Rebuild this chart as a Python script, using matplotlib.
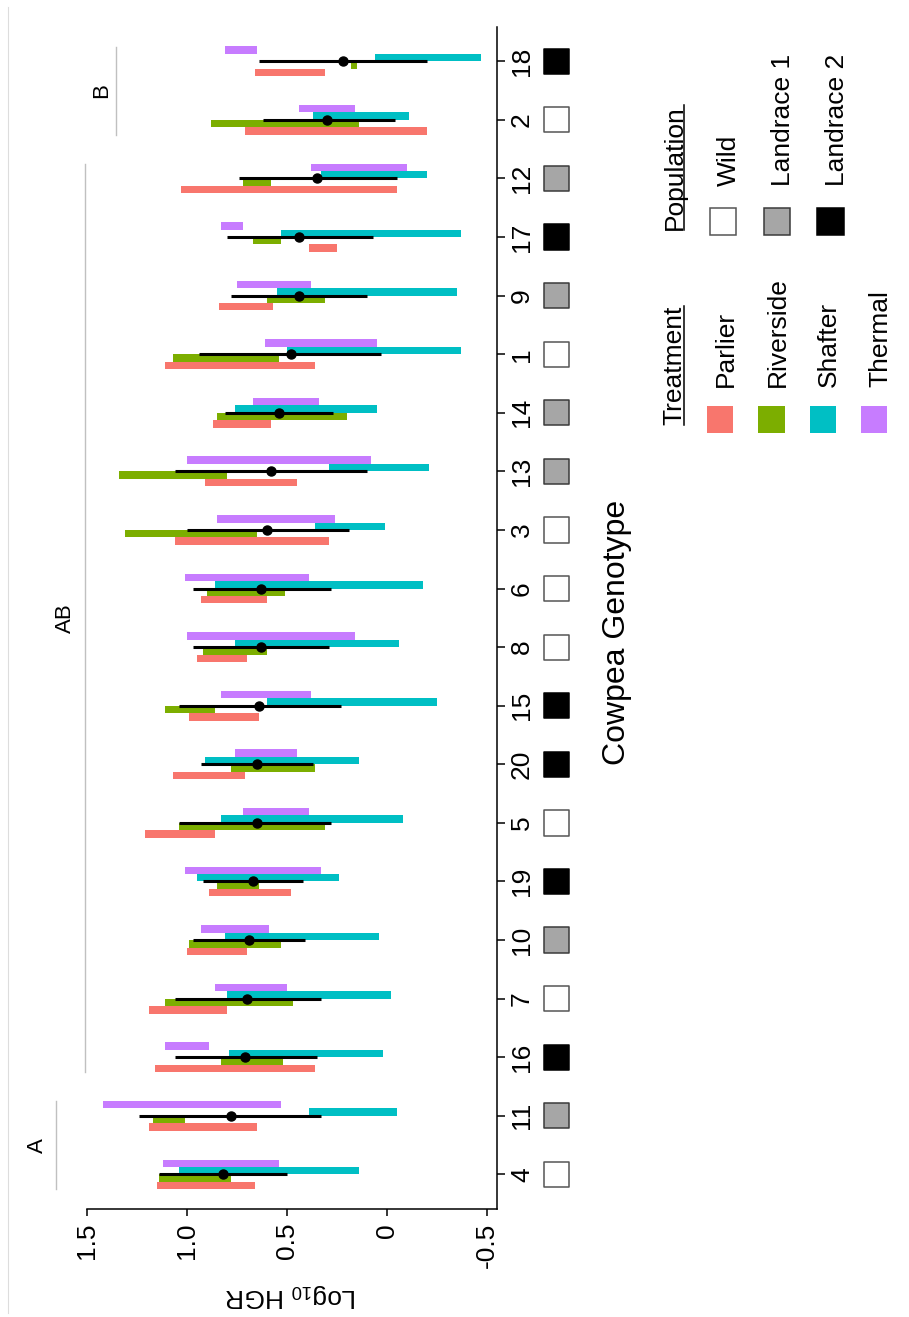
import numpy as np
import matplotlib
matplotlib.use('Agg')
import matplotlib.pyplot as plt
from matplotlib.patches import Rectangle
from matplotlib.lines import Line2D
from matplotlib.transforms import blended_transform_factory

# genotypes, bottom to top (ordered by mean log10 HGR)
genotypes = ['4', '11', '16', '7', '10', '19', '5', '20', '15', '8',
             '6', '3', '13', '14', '1', '9', '17', '12', '2', '18']
population = ['Wild', 'Landrace 1', 'Landrace 2', 'Wild', 'Landrace 1',
              'Landrace 2', 'Wild', 'Landrace 2', 'Landrace 2', 'Wild',
              'Wild', 'Wild', 'Landrace 1', 'Landrace 1', 'Wild',
              'Landrace 1', 'Landrace 2', 'Landrace 1', 'Wild', 'Landrace 2']

# treatment ranges (low, high) of log10 HGR
parlier_lo = [0.66, 0.65, 0.36, 0.80, 0.70, 0.48, 0.86, 0.71, 0.64, 0.70,
              0.60, 0.29, 0.45, 0.58, 0.36, 0.57, 0.25, -0.05, -0.20, 0.31]
parlier_hi = [1.15, 1.19, 1.16, 1.19, 1.00, 0.89, 1.21, 1.07, 0.99, 0.95,
              0.93, 1.06, 0.91, 0.87, 1.11, 0.84, 0.39, 1.03, 0.71, 0.66]
riverside_lo = [0.78, 1.01, 0.52, 0.47, 0.53, 0.64, 0.31, 0.36, 0.86, 0.60,
                0.51, 0.65, 0.80, 0.20, 0.54, 0.31, 0.53, 0.58, 0.14, 0.15]
riverside_hi = [1.14, 1.17, 0.83, 1.11, 0.99, 0.85, 1.04, 0.78, 1.11, 0.92,
                0.90, 1.31, 1.34, 0.85, 1.07, 0.60, 0.67, 0.72, 0.88, 0.18]
shafter_lo = [0.14, -0.05, 0.02, -0.02, 0.04, 0.24, -0.08, 0.14, -0.25, -0.06,
              -0.18, 0.01, -0.21, 0.05, -0.37, -0.35, -0.37, -0.20, -0.11, -0.47]
shafter_hi = [1.04, 0.39, 0.79, 0.80, 0.81, 0.95, 0.83, 0.91, 0.60, 0.76,
              0.86, 0.36, 0.29, 0.76, 0.50, 0.55, 0.53, 0.33, 0.37, 0.06]
thermal_lo = [0.54, 0.53, 0.89, 0.50, 0.59, 0.33, 0.39, 0.45, 0.38, 0.16,
              0.39, 0.26, 0.08, 0.34, 0.05, 0.38, 0.72, -0.10, 0.16, 0.65]
thermal_hi = [1.12, 1.42, 1.11, 0.86, 0.93, 1.01, 0.72, 0.76, 0.83, 1.00,
              1.01, 0.85, 1.00, 0.67, 0.61, 0.75, 0.83, 0.38, 0.44, 0.81]

# genotype mean and interval
mean = [0.82, 0.78, 0.71, 0.70, 0.69, 0.67, 0.65, 0.65, 0.64, 0.63,
        0.63, 0.60, 0.58, 0.54, 0.48, 0.44, 0.44, 0.35, 0.30, 0.22]
ci_lo = [0.50, 0.33, 0.35, 0.33, 0.41, 0.42, 0.28, 0.37, 0.23, 0.29,
         0.28, 0.19, 0.10, 0.27, 0.03, 0.10, 0.07, -0.05, -0.04, -0.20]
ci_hi = [1.14, 1.24, 1.06, 1.06, 0.97, 0.92, 1.04, 0.93, 1.04, 0.97,
         0.97, 1.00, 1.06, 0.81, 0.94, 0.78, 0.80, 0.74, 0.62, 0.64]

# letter groups: (letter, first genotype index, last genotype index)
groups = [('A', 0, 1), ('AB', 2, 17), ('B', 18, 19)]

treatment_names = ['Parlier', 'Riverside', 'Shafter', 'Thermal']
treatment_colors = ['#F8766D', '#7CAE00', '#00BFC4', '#C77CFF']
pop_names = ['Wild', 'Landrace 1', 'Landrace 2']
pop_fill = {'Wild': 'white', 'Landrace 1': '#A6A6A6', 'Landrace 2': 'black'}
pop_edge = {'Wild': '#555555', 'Landrace 1': '#3a3a3a', 'Landrace 2': 'black'}

plt.rcParams['font.family'] = ['Liberation Sans', 'DejaVu Sans']
plt.rcParams['mathtext.fontset'] = 'custom'
plt.rcParams['mathtext.rm'] = 'Liberation Sans'
plt.rcParams['mathtext.it'] = 'Liberation Sans:italic'

W, H = 909, 1317
fig = plt.figure(figsize=(W / 100, H / 100), dpi=100)


def fx(x):
    return x / W


def fy(y):
    return 1 - y / H


ax = fig.add_axes([fx(87.3), fy(1209), (496.7 - 87.3) / W, (1209 - 26.7) / H])

pos = np.arange(len(genotypes))
bar_h = 0.127
lows = [parlier_lo, riverside_lo, shafter_lo, thermal_lo]
highs = [parlier_hi, riverside_hi, shafter_hi, thermal_hi]
for k in range(4):
    lo = np.array(lows[k])
    hi = np.array(highs[k])
    ax.barh(pos + (k - 1.5) * bar_h, hi - lo, left=lo, height=bar_h,
            color=treatment_colors[k], linewidth=0)

ax.hlines(pos, ci_lo, ci_hi, color='black', lw=2.2, zorder=3)
ax.plot(mean, pos, 'o', color='black', ms=6.5, zorder=4)

ax.set_xlim(1.5, -0.547)
ax.set_ylim(-0.59, 19.59)
for s in ['top', 'left']:
    ax.spines[s].set_visible(False)
for s in ['bottom', 'right']:
    ax.spines[s].set_linewidth(1.1)

ax.set_xticks([1.5, 1.0, 0.5, 0, -0.5])
ax.set_xticklabels(['1.5', '1.0', '0.5', '0', '-0.5'], rotation=90)
ax.yaxis.tick_right()
ax.set_yticks(pos)
ax.set_yticklabels(genotypes, rotation=90, va='center')
ax.tick_params(axis='x', length=5, width=1.1, labelsize=19, pad=5)
ax.tick_params(axis='y', length=5.5, width=1.1, labelsize=19, pad=4)

# population boxes next to genotype labels
tr = blended_transform_factory(ax.transAxes, ax.transData)
ax.scatter(np.full(len(pos), 1.147), pos, transform=tr, marker='s', s=330,
           c=[pop_fill[p] for p in population],
           edgecolors=[pop_edge[p] for p in population],
           linewidths=1.1, clip_on=False, zorder=5)

# significance letters
letter_x = {'A': 1.75, 'AB': 1.61, 'B': 1.43}
line_x = {'A': 1.658, 'AB': 1.51, 'B': 1.356}
for letter, a, b in groups:
    ax.plot([line_x[letter]] * 2, [a - 0.25, b + 0.25], color='#c0c0c0',
            lw=1, clip_on=False)
    ax.text(letter_x[letter], (a + b) / 2, letter, rotation=90, ha='center',
            va='center', fontsize=16, clip_on=False)

fig.text(fx(291), fy(1296), r'Log$_{10}$ HGR', rotation=180, ha='center',
         va='center', fontsize=19)
fig.text(fx(625), fy(765), 'Cowpea Genotype', rotation=90,
         rotation_mode='anchor', ha='left', va='baseline', fontsize=23)

# legend
def heading(text, x, y):
    t = fig.text(fx(x), fy(y), text, rotation=90, rotation_mode='anchor',
                 ha='left', va='baseline', fontsize=19)
    fig.canvas.draw()
    bb = t.get_window_extent()
    fig.add_artist(Line2D([fx(x + 2.5)] * 2, [bb.y0 / H, bb.y1 / H],
                          color='black', lw=1.1))


def key(x0, y0, side, face, edge, lw):
    fig.add_artist(Rectangle((fx(x0), fy(y0 + side)), side / W, side / H,
                             facecolor=face, edgecolor=edge, lw=lw))


heading('Treatment', 681.7, 425)
tx = [706.7, 758, 809.5, 860.5]
for k, name in enumerate(treatment_names):
    key(tx[k], 406, 26.5, treatment_colors[k], 'none', 0)
    fig.text(fx(tx[k] + 26.5), fy(386.7), name, rotation=90,
             rotation_mode='anchor', ha='left', va='baseline', fontsize=19)

heading('Population', 681.7, 230)
px = [709.5, 763.5, 817]
for k, name in enumerate(pop_names):
    key(px[k], 208, 26.5, pop_fill[name], pop_edge[name], 1.1)
    fig.text(fx(px[k] + 26.5), fy(186), name, rotation=90,
             rotation_mode='anchor', ha='left', va='baseline', fontsize=19)

fig.add_artist(Line2D([fx(8), fx(8)], [fy(7), fy(1313)], color='#dddddd', lw=0.8))

fig.savefig('out.png', dpi=100)
